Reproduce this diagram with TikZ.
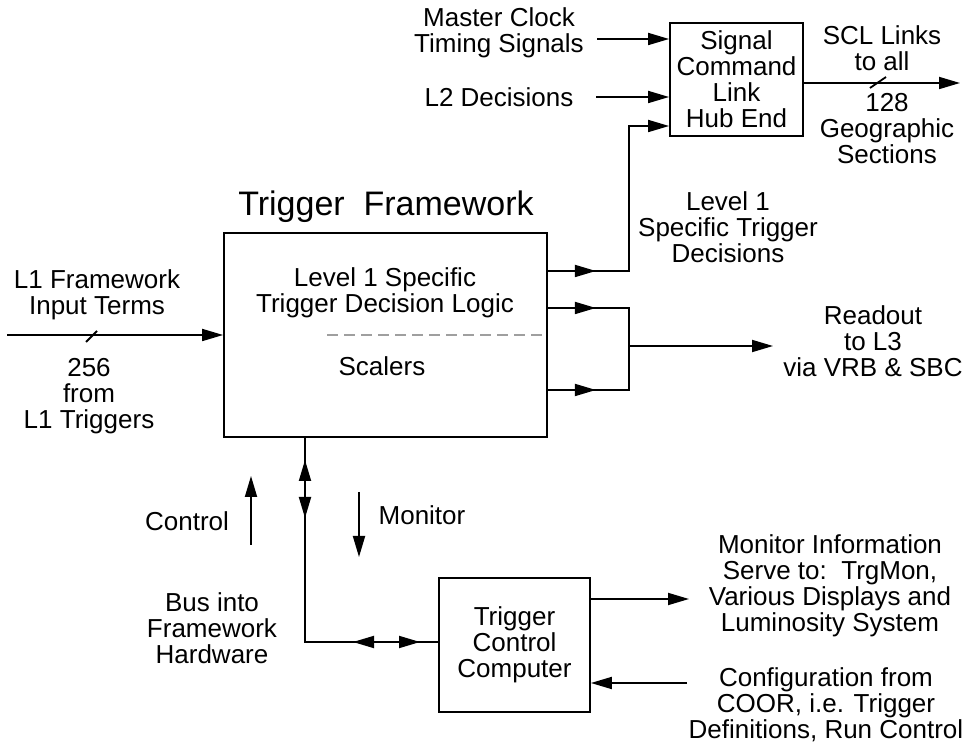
\documentclass[tikz,border=0pt]{standalone}
\usepackage{fontspec}
\setmainfont{Liberation Sans}
\usetikzlibrary{arrows.meta}

\tikzset{
  box/.style={draw, line width=0.9pt, align=center, inner sep=0pt},
  lbl/.style={align=center, inner sep=0pt},
  arr/.style={-{Triangle[length=10.5pt,width=6pt]}},
}

\begin{document}
\begin{tikzpicture}[x=0.5pt, y=-0.5pt, line width=0.9pt, font=\fontsize{13}{13}\selectfont]
\useasboundingbox (0,0) rectangle (970,747);

\coordinate (mcIn) at (597,39);
\coordinate (l2In) at (596,97);
\coordinate (lvlUp) at (629,126);
\coordinate (lvlDn) at (629,271);
\coordinate (roTop) at (629,308);
\coordinate (roBot) at (629,390);
\coordinate (roMid) at (629,346);
\coordinate (roOut) at (773,346);
\coordinate (sclOut) at (960,83);
\coordinate (inL) at (7,335);
\coordinate (busCorner) at (305,642);
\coordinate (ctrlA) at (251,545);
\coordinate (ctrlB) at (251,476);
\coordinate (monA) at (359,492);
\coordinate (monB) at (359,557);
\coordinate (monOut) at (689,599);
\coordinate (cfgIn) at (687,683);

% boxes
\node[box, minimum width=161.5pt, minimum height=102pt] (tf) at (385.5,335) {};
\node[box, minimum width=66.5pt, minimum height=56.5pt] (sig) at (736.5,79.5) {Signal\\Command\\Link\\Hub End};
\node[box, minimum width=75.5pt, minimum height=67pt] (tcc) at (514.5,645) {Trigger\\Control\\Computer};

% labels
\node[lbl, font=\fontsize{17}{17}\selectfont] (tfTitle) at (386,207) {Trigger\ \ Framework};
\node[lbl] (logic) at (385,293) {Level 1 Specific\\Trigger Decision Logic};
\node[lbl] (scalers) at (382,366) {Scalers};
\node[lbl] (mc) at (499,33) {Master Clock\\Timing Signals};
\node[lbl] (l2) at (499,97) {L2 Decisions};
\node[lbl] (sclTop) at (882,48) {SCL Links\\to all};
\node[lbl] (sclBot) at (887,129) {128\\Geographic\\Sections};
\node[lbl] (inTop) at (97,295) {L1 Framework\\Input Terms};
\node[lbl] (inBot) at (89,396) {256\\from\\L1 Triggers};
\node[lbl] (lvl1) at (728,227) {Level 1\\Specific Trigger\\Decisions};
\node[lbl] (readout) at (873,341) {Readout\\to L3\\via VRB \& SBC};
\node[lbl] (control) at (187,521) {Control};
\node[lbl] (monitor) at (422,515) {Monitor};
\node[lbl] (bus) at (212,628) {Bus into\\Framework\\Hardware};
\node[lbl] (monInfo) at (830,586) {Monitor Information\\Serve to:\ \ TrgMon,\\Various Displays and\\Luminosity\ System};
\node[lbl] (config) at (826,705) {Configuration from\\COOR, i.e. Trigger\\Definitions, Run Control};

% dashed split inside framework
\draw[gray!75, dash pattern=on 5.5pt off 3pt] (327,335) -- (tf.east);

% inputs to the hub end
\draw[arr] (mcIn) -- (mcIn -| sig.west);
\draw[arr] (l2In) -- (l2In -| sig.west);
\draw[arr] (tf.east |- lvlDn) -- (lvlDn) -- (lvlUp) -- (lvlUp -| sig.west);
\draw[arr] (tf.east |- lvlDn) -- +(48,0);
\draw[arr] (sig.east |- sclOut) -- (sclOut);
\draw (870,88) -- ++(16,-11);

% readout
\draw (tf.east |- roTop) -- (roTop) -- (roBot) -- (tf.east |- roBot);
\draw[arr] (tf.east |- roTop) -- +(48,0);
\draw[arr] (tf.east |- roBot) -- +(48,0);
\draw[arr] (roMid) -- (roOut);

% input terms
\draw[arr] (inL) -- (tf.west);
\draw (86,342) -- ++(11,-11);

% bus to the control computer
\draw (tf.south -| busCorner) -- (busCorner) -- (busCorner -| tcc.west);
\draw[arr] (busCorner) ++(0,-160) -- ++(0,-22);
\draw[arr] (busCorner) ++(0,-146) -- ++(0,22);
\draw[arr] (busCorner) ++(70,0) -- ++(-22,0);
\draw[arr] (busCorner) ++(93,0) -- ++(22,0);
\draw[arr] (ctrlA) -- (ctrlB);
\draw[arr] (monA) -- (monB);

\draw[arr] (tcc.east |- monOut) -- (monOut);
\draw[arr] (cfgIn) -- (cfgIn -| tcc.east);
\end{tikzpicture}
\end{document}
